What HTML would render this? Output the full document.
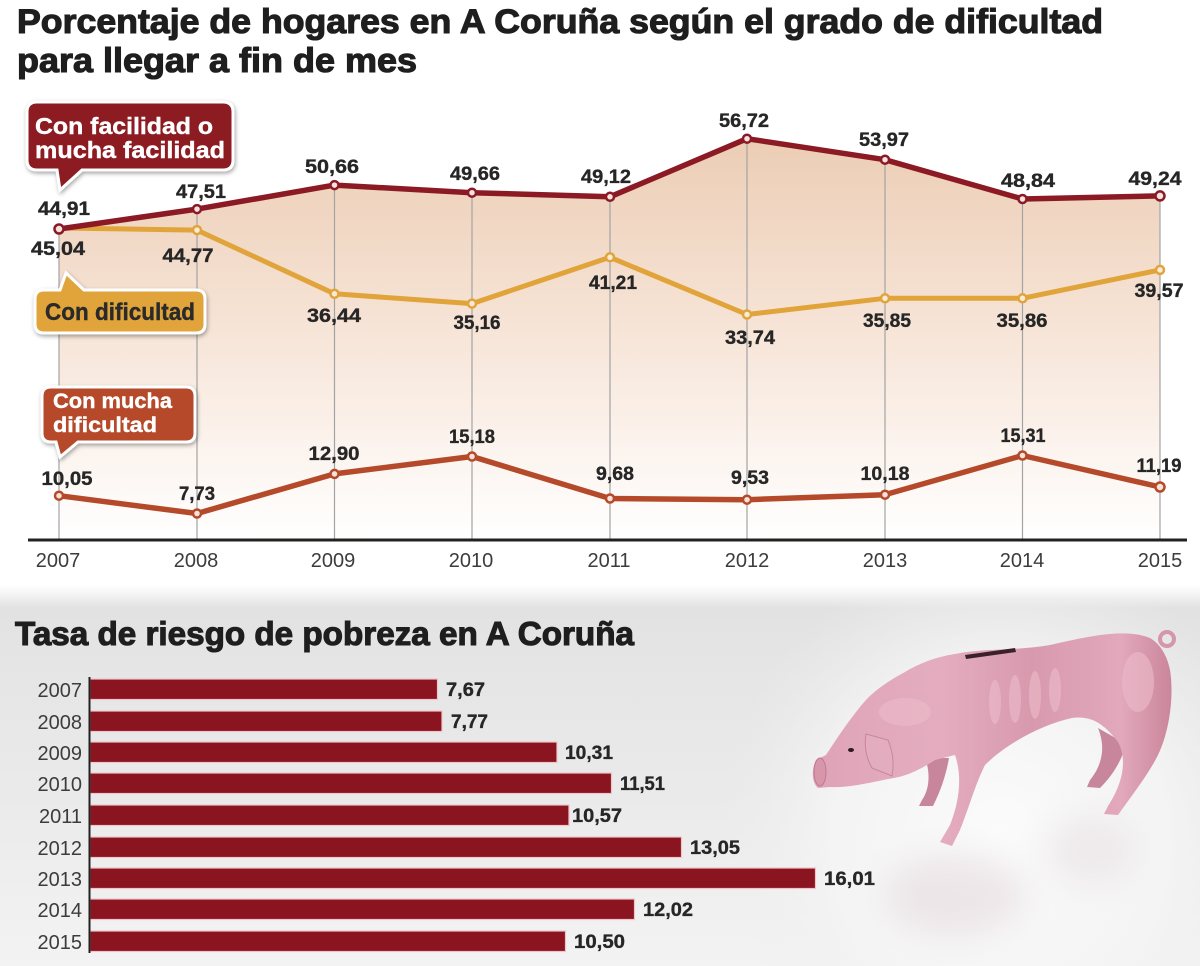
<!DOCTYPE html>
<html><head><meta charset="utf-8"><style>
html,body{margin:0;padding:0;background:#fff;}
svg{display:block;}
text{font-family:"Liberation Sans",sans-serif;}
.v{font-weight:bold;font-size:19px;fill:#262626;text-anchor:middle;stroke:#262626;stroke-width:0.35;}
.bv{font-weight:bold;font-size:19px;fill:#262626;stroke:#262626;stroke-width:0.35;}
.yr{font-size:20px;fill:#3c3c3c;text-anchor:middle;}
.byr{font-size:20px;fill:#3c3c3c;text-anchor:end;}
.ttl{font-weight:bold;fill:#1e1e1e;stroke:#1e1e1e;stroke-width:1.1;}
</style></head><body>
<svg width="1200" height="966" viewBox="0 0 1200 966" xmlns="http://www.w3.org/2000/svg">
<defs>
<linearGradient id="fillg" x1="0" y1="138" x2="0" y2="540" gradientUnits="userSpaceOnUse">
<stop offset="0" stop-color="#eccdb5"/>
<stop offset="0.45" stop-color="#f6e3d5"/>
<stop offset="0.8" stop-color="#fcf5f0"/>
<stop offset="1" stop-color="#ffffff"/>
</linearGradient>
<linearGradient id="bgb" x1="0" y1="585" x2="0" y2="966" gradientUnits="userSpaceOnUse">
<stop offset="0" stop-color="#ffffff"/>
<stop offset="0.06" stop-color="#e2e2e2"/>
<stop offset="0.2" stop-color="#e5e5e5"/>
<stop offset="0.6" stop-color="#ebebeb"/>
<stop offset="1" stop-color="#f3f3f3"/>
</linearGradient>
<radialGradient id="floor" cx="1000" cy="830" r="280" gradientUnits="userSpaceOnUse">
<stop offset="0" stop-color="#fbfbfb"/>
<stop offset="0.6" stop-color="#f5f5f5" stop-opacity="0.85"/>
<stop offset="1" stop-color="#eeeeee" stop-opacity="0"/>
</radialGradient>
<linearGradient id="pigg" x1="815" y1="0" x2="1175" y2="0" gradientUnits="userSpaceOnUse">
<stop offset="0" stop-color="#dfa3b7"/>
<stop offset="0.35" stop-color="#e4adbf"/>
<stop offset="0.6" stop-color="#d899ae"/>
<stop offset="0.85" stop-color="#e2a8bb"/>
<stop offset="1" stop-color="#c98399"/>
</linearGradient>
<filter id="blur" x="-50%" y="-50%" width="200%" height="200%"><feGaussianBlur stdDeviation="16"/></filter>
<filter id="sh" x="-10%" y="-10%" width="130%" height="140%"><feDropShadow dx="1" dy="2" stdDeviation="2" flood-color="#000" flood-opacity="0.35"/></filter>
</defs>

<rect x="0" y="0" width="1200" height="590" fill="#ffffff"/>

<text class="ttl" x="17" y="33" font-size="34" textLength="1086" lengthAdjust="spacingAndGlyphs">Porcentaje de hogares en A Coruña según el grado de dificultad</text>
<text class="ttl" x="17" y="72" font-size="34" textLength="400" lengthAdjust="spacingAndGlyphs">para llegar a fin de mes</text>

<polygon fill="url(#fillg)" points="59,229 197,209.1 334.5,185.1 472,192.7 610,196.8 747,138.7 885,159.7 1022.5,199 1160,195.9 1160,540 59,540"/>

<g stroke="#a3a3a3" stroke-width="1.2">
<line x1="59" y1="229" x2="59" y2="540"/>
<line x1="197" y1="209" x2="197" y2="540"/>
<line x1="334.5" y1="185" x2="334.5" y2="540"/>
<line x1="472" y1="193" x2="472" y2="540"/>
<line x1="610" y1="197" x2="610" y2="540"/>
<line x1="747" y1="139" x2="747" y2="540"/>
<line x1="885" y1="160" x2="885" y2="540"/>
<line x1="1022.5" y1="199" x2="1022.5" y2="540"/>
<line x1="1160" y1="196" x2="1160" y2="540"/>
</g>

<line x1="28" y1="540" x2="1187" y2="540" stroke="#222" stroke-width="3"/>

<text class="yr" x="58" y="567">2007</text>
<text class="yr" x="196" y="567">2008</text>
<text class="yr" x="333" y="567">2009</text>
<text class="yr" x="471" y="567">2010</text>
<text class="yr" x="609" y="567">2011</text>
<text class="yr" x="747" y="567">2012</text>
<text class="yr" x="885" y="567">2013</text>
<text class="yr" x="1022" y="567">2014</text>
<text class="yr" x="1160" y="567">2015</text>

<polyline fill="none" stroke="#e0a43a" stroke-width="5" stroke-linejoin="round" points="59,228 197,230.1 334.5,293.8 472,303.6 610,257.3 747,314.5 885,298.3 1022.5,298.3 1160,269.9"/>
<polyline fill="none" stroke="#8b1a24" stroke-width="5.5" stroke-linejoin="round" points="59,229 197,209.1 334.5,185.1 472,192.7 610,196.8 747,138.7 885,159.7 1022.5,199 1160,195.9"/>
<polyline fill="none" stroke="#b54a2b" stroke-width="5.5" stroke-linejoin="round" points="59,495.7 197,513.5 334.5,473.9 472,456.5 610,498.5 747,499.7 885,494.7 1022.5,455.5 1160,487"/>

<g fill="#f7ead8" stroke="#e0a43a" stroke-width="2.5">
<circle cx="197" cy="230.1" r="4"/><circle cx="334.5" cy="293.8" r="4"/><circle cx="472" cy="303.6" r="4"/><circle cx="610" cy="257.3" r="4"/><circle cx="747" cy="314.5" r="4"/><circle cx="885" cy="298.3" r="4"/><circle cx="1022.5" cy="298.3" r="4"/><circle cx="1160" cy="269.9" r="4"/>
</g>
<g fill="#f5e3e3" stroke="#8b1a24" stroke-width="2.5">
<circle cx="59" cy="229" r="4.5"/><circle cx="197" cy="209.1" r="4"/><circle cx="334.5" cy="185.1" r="4"/><circle cx="472" cy="192.7" r="4"/><circle cx="610" cy="196.8" r="4"/><circle cx="747" cy="138.7" r="4"/><circle cx="885" cy="159.7" r="4"/><circle cx="1022.5" cy="199" r="4"/><circle cx="1160" cy="195.9" r="4.5"/>
</g>
<g fill="#f7e2da" stroke="#b54a2b" stroke-width="2.5">
<circle cx="59" cy="495.7" r="4"/><circle cx="197" cy="513.5" r="4"/><circle cx="334.5" cy="473.9" r="4"/><circle cx="472" cy="456.5" r="4"/><circle cx="610" cy="498.5" r="4"/><circle cx="747" cy="499.7" r="4"/><circle cx="885" cy="494.7" r="4"/><circle cx="1022.5" cy="455.5" r="4"/><circle cx="1160" cy="487" r="4.5"/>
</g>

<text class="v" x="64" y="215" textLength="52" lengthAdjust="spacingAndGlyphs">44,91</text>
<text class="v" x="201" y="198" textLength="50" lengthAdjust="spacingAndGlyphs">47,51</text>
<text class="v" x="332" y="173" textLength="54" lengthAdjust="spacingAndGlyphs">50,66</text>
<text class="v" x="475" y="180" textLength="50" lengthAdjust="spacingAndGlyphs">49,66</text>
<text class="v" x="606" y="183" textLength="50" lengthAdjust="spacingAndGlyphs">49,12</text>
<text class="v" x="744" y="127" textLength="50" lengthAdjust="spacingAndGlyphs">56,72</text>
<text class="v" x="884" y="146" textLength="50" lengthAdjust="spacingAndGlyphs">53,97</text>
<text class="v" x="1028" y="187" textLength="54" lengthAdjust="spacingAndGlyphs">48,84</text>
<text class="v" x="1155" y="185" textLength="53" lengthAdjust="spacingAndGlyphs">49,24</text>
<text class="v" x="58" y="255" textLength="54" lengthAdjust="spacingAndGlyphs">45,04</text>
<text class="v" x="188" y="262" textLength="51" lengthAdjust="spacingAndGlyphs">44,77</text>
<text class="v" x="334" y="322" textLength="54" lengthAdjust="spacingAndGlyphs">36,44</text>
<text class="v" x="477" y="329" textLength="47" lengthAdjust="spacingAndGlyphs">35,16</text>
<text class="v" x="613" y="289" textLength="48" lengthAdjust="spacingAndGlyphs">41,21</text>
<text class="v" x="750" y="344" textLength="50" lengthAdjust="spacingAndGlyphs">33,74</text>
<text class="v" x="887" y="327" textLength="48" lengthAdjust="spacingAndGlyphs">35,85</text>
<text class="v" x="1022" y="327" textLength="51" lengthAdjust="spacingAndGlyphs">35,86</text>
<text class="v" x="1159" y="297" textLength="49" lengthAdjust="spacingAndGlyphs">39,57</text>
<text class="v" x="67" y="485" textLength="51" lengthAdjust="spacingAndGlyphs">10,05</text>
<text class="v" x="197" y="500" textLength="36" lengthAdjust="spacingAndGlyphs">7,73</text>
<text class="v" x="334" y="460" textLength="51" lengthAdjust="spacingAndGlyphs">12,90</text>
<text class="v" x="472" y="443" textLength="46" lengthAdjust="spacingAndGlyphs">15,18</text>
<text class="v" x="615" y="480" textLength="38" lengthAdjust="spacingAndGlyphs">9,68</text>
<text class="v" x="750" y="484" textLength="38" lengthAdjust="spacingAndGlyphs">9,53</text>
<text class="v" x="885" y="480" textLength="49" lengthAdjust="spacingAndGlyphs">10,18</text>
<text class="v" x="1023" y="442" textLength="45" lengthAdjust="spacingAndGlyphs">15,31</text>
<text class="v" x="1159" y="472" textLength="45" lengthAdjust="spacingAndGlyphs">11,19</text>

<path filter="url(#sh)" d="M37,102 H223 Q233,102 233,112 V160 Q233,170 223,170 H82 L60,190 L57,170 H37 Q27,170 27,160 V112 Q27,102 37,102 Z" fill="#8c1a24" stroke="#ffffff" stroke-width="3"/>
<text x="35" y="134" font-size="23" font-weight="bold" fill="#ffffff" stroke="#ffffff" stroke-width="0.4" textLength="178" lengthAdjust="spacingAndGlyphs">Con facilidad o</text>
<text x="35" y="158" font-size="23" font-weight="bold" fill="#ffffff" stroke="#ffffff" stroke-width="0.4" textLength="190" lengthAdjust="spacingAndGlyphs">mucha facilidad</text>

<path filter="url(#sh)" d="M44,290 H60 L66,273 L84,290 H196 Q205,290 205,299 V324 Q205,333 196,333 H44 Q35,333 35,324 V299 Q35,290 44,290 Z" fill="#e1a43a" stroke="#ffffff" stroke-width="3"/>
<text x="45" y="320" font-size="24" font-weight="bold" fill="#2a2a2a" stroke="#2a2a2a" stroke-width="0.4" textLength="150" lengthAdjust="spacingAndGlyphs">Con dificultad</text>

<path filter="url(#sh)" d="M51,387 H186 Q195,387 195,396 V433 Q195,442 186,442 H78 L60,457 L56,442 H51 Q42,442 42,433 V396 Q42,387 51,387 Z" fill="#b64a2c" stroke="#ffffff" stroke-width="3"/>
<text x="53" y="408" font-size="21" font-weight="bold" fill="#ffffff" stroke="#ffffff" stroke-width="0.4" textLength="119" lengthAdjust="spacingAndGlyphs">Con mucha</text>
<text x="53" y="432" font-size="21" font-weight="bold" fill="#ffffff" stroke="#ffffff" stroke-width="0.4" textLength="104" lengthAdjust="spacingAndGlyphs">dificultad</text>

<rect x="0" y="585" width="1200" height="381" fill="url(#bgb)"/>
<rect x="700" y="600" width="500" height="366" fill="url(#floor)"/>

<text class="ttl" x="15" y="645" font-size="33" textLength="619" lengthAdjust="spacingAndGlyphs">Tasa de riesgo de pobreza en A Coruña</text>

<g fill="#8a1521" stroke="#f0c4c8" stroke-width="1.2">
<rect x="90" y="679" width="347.5" height="20.5"/>
<rect x="90" y="711" width="352" height="20.5"/>
<rect x="90" y="742" width="467" height="20.5"/>
<rect x="90" y="773" width="521.5" height="20.5"/>
<rect x="90" y="805" width="479" height="20.5"/>
<rect x="90" y="837" width="591.5" height="20.5"/>
<rect x="90" y="868" width="725.5" height="20.5"/>
<rect x="90" y="899" width="544.5" height="20.5"/>
<rect x="90" y="931" width="475.5" height="20.5"/>
</g>
<line x1="89.5" y1="677" x2="89.5" y2="953" stroke="#222" stroke-width="2"/>

<text class="byr" x="82" y="697">2007</text>
<text class="byr" x="82" y="729">2008</text>
<text class="byr" x="82" y="760">2009</text>
<text class="byr" x="82" y="791">2010</text>
<text class="byr" x="82" y="823">2011</text>
<text class="byr" x="82" y="855">2012</text>
<text class="byr" x="82" y="886">2013</text>
<text class="byr" x="82" y="917">2014</text>
<text class="byr" x="82" y="949">2015</text>

<text class="bv" x="446" y="696" textLength="39" lengthAdjust="spacingAndGlyphs">7,67</text>
<text class="bv" x="451" y="728" textLength="37" lengthAdjust="spacingAndGlyphs">7,77</text>
<text class="bv" x="565" y="759" textLength="48" lengthAdjust="spacingAndGlyphs">10,31</text>
<text class="bv" x="620" y="790" textLength="45" lengthAdjust="spacingAndGlyphs">11,51</text>
<text class="bv" x="572" y="822" textLength="50" lengthAdjust="spacingAndGlyphs">10,57</text>
<text class="bv" x="690" y="854" textLength="50" lengthAdjust="spacingAndGlyphs">13,05</text>
<text class="bv" x="824" y="885" textLength="51" lengthAdjust="spacingAndGlyphs">16,01</text>
<text class="bv" x="643" y="916" textLength="50" lengthAdjust="spacingAndGlyphs">12,02</text>
<text class="bv" x="574" y="948" textLength="51" lengthAdjust="spacingAndGlyphs">10,50</text>

<!-- pig shadow (subtle) -->
<ellipse cx="955" cy="895" rx="70" ry="40" fill="#d8c6cc" opacity="0.35" filter="url(#blur)"/>
<ellipse cx="1090" cy="850" rx="45" ry="35" fill="#dccdd2" opacity="0.3" filter="url(#blur)"/>

<!-- far legs -->
<g fill="#c7869c">
<path d="M925,758 C931,774 929,790 922,800 L919,806 L933,806 C941,790 946,775 949,758 Z"/>
<path d="M1098,728 C1107,750 1100,768 1090,780 L1087,787 L1100,788 C1113,775 1122,760 1126,744 Z"/>
</g>

<!-- body -->
<path fill="url(#pigg)" d="M1150,638 C1125,628 1090,636 1050,645 C1015,651 985,648 955,654 C935,657 918,664 905,672 C890,680 875,690 866,700 C850,718 836,740 826,755 L816,760 C811,770 812,783 818,788 L830,787 C845,788 865,784 888,779 C905,777 920,770 935,760 L955,755 C962,775 960,800 950,825 L940,842 L952,846 L960,830 C970,805 975,785 985,765 C1005,745 1040,725 1072,718 C1092,715 1105,725 1118,742 C1128,760 1122,785 1108,806 L1104,814 L1118,815 C1132,795 1148,775 1158,755 C1170,730 1174,695 1170,670 C1167,655 1160,644 1150,638 Z"/>
<g fill="#ecbccb" opacity="0.6">
<ellipse cx="995" cy="702" rx="6" ry="22"/>
<ellipse cx="1015" cy="699" rx="6" ry="24"/>
<ellipse cx="1035" cy="695" rx="6" ry="24"/>
<ellipse cx="1055" cy="690" rx="6" ry="22"/>
<ellipse cx="1138" cy="682" rx="16" ry="30"/>
<ellipse cx="905" cy="712" rx="26" ry="14"/>
</g>
<path d="M866,734 L888,740 C893,752 894,765 892,776 L872,768 C866,758 864,745 866,734 Z" fill="#e4adbf" stroke="#c7869c" stroke-width="1"/>
<ellipse cx="820" cy="772" rx="6" ry="14" fill="#d896ab" stroke="#c07890" stroke-width="1"/>
<ellipse cx="851" cy="750" rx="3" ry="2" fill="#2a1a1e"/>
<path d="M965,655 L1015,648 L1016,652 L966,659 Z" fill="#3a2228"/>
<circle cx="1167" cy="639" r="7" fill="none" stroke="#d596ab" stroke-width="4"/>
</svg>
</body></html>
